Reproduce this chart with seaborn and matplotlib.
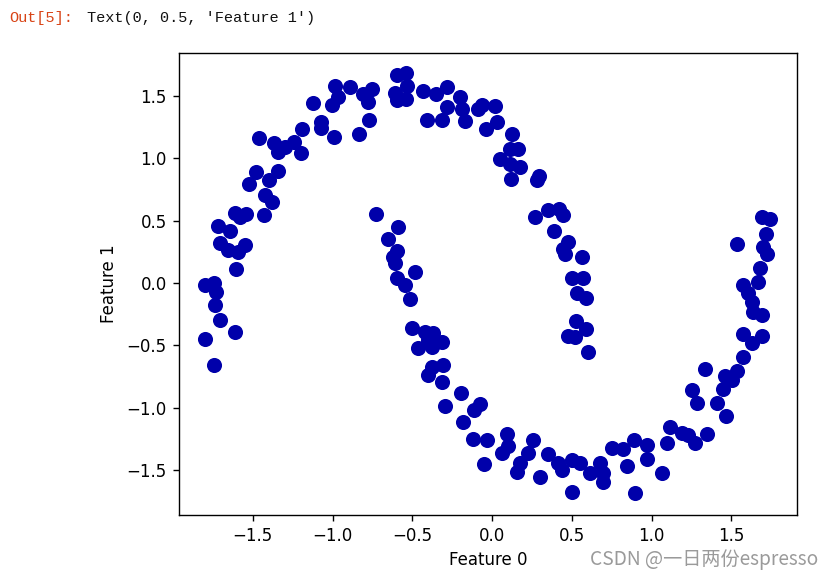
import matplotlib
matplotlib.use("Agg")
import matplotlib.pyplot as plt
import seaborn as sns
import pandas as pd

# Upper moon (feature 0, feature 1)
upper_x = [-0.984, -0.966, -1.003, -0.991, -1.122, -1.072, -1.072, -1.191, -1.461, -1.367,
           -1.342, -1.298, -1.241, -1.197, -1.480, -1.342, -1.524, -1.398, -1.423, -1.379,
           -1.611, -1.542, -1.429, -1.580, -1.718, -1.643, -1.705, -1.655, -1.592, -1.549,
           -1.605, -1.799, -1.743, -1.730, -1.737, -1.705, -1.611, -1.799, -1.743,
           -0.890, -0.809, -0.752, -0.777, -0.771, -0.834, -0.596, -0.539, -0.533, -0.608,
           -0.596, -0.539, -0.433, -0.351, -0.282, -0.282, -0.201, -0.188, -0.169, -0.313,
           -0.408, -0.088, -0.063, -0.038, 0.019, 0.031, 0.125, 0.113, 0.163, 0.050,
           0.113, 0.176, 0.119, 0.295, 0.282, 0.270, 0.351, 0.420, 0.445, 0.389,
           0.476, 0.445, 0.458, 0.564, 0.502, 0.571, 0.533, 0.589, 0.527, 0.589,
           0.476, 0.520, 0.602]
upper_y = [1.580, 1.492, 1.427, 1.171, 1.443, 1.291, 1.243, 1.235, 1.163, 1.123,
           1.051, 1.091, 1.131, 1.043, 0.890, 0.898, 0.794, 0.826, 0.706, 0.650,
           0.561, 0.553, 0.545, 0.529, 0.457, 0.417, 0.321, 0.265, 0.249, 0.305,
           0.112, -0.016, 0.000, -0.072, -0.176, -0.297, -0.393, -0.449, -0.658,
           1.572, 1.516, 1.556, 1.452, 1.307, 1.195, 1.668, 1.684, 1.580, 1.524,
           1.468, 1.476, 1.540, 1.516, 1.572, 1.411, 1.492, 1.395, 1.299, 1.307,
           1.307, 1.395, 1.427, 1.235, 1.419, 1.291, 1.195, 1.075, 1.075, 0.994,
           0.954, 0.930, 0.834, 0.858, 0.826, 0.529, 0.585, 0.593, 0.545, 0.417,
           0.329, 0.273, 0.233, 0.208, 0.040, 0.040, -0.080, -0.120, -0.305, -0.369,
           -0.425, -0.433, -0.553]

# Lower moon (feature 0, feature 1)
lower_x = [-0.727, -0.589, -0.652, -0.596, -0.621, -0.608, -0.483, -0.596, -0.545, -0.514,
           -0.502, -0.420, -0.370, -0.313, -0.464, -0.376, -0.401, -0.376, -0.401, -0.307,
           -0.313, -0.194, -0.295, -0.075, -0.113, -0.182, -0.119, -0.031, -0.050, 0.094,
           0.100, 0.063, 0.176, 0.157, 0.257, 0.226, 0.301, 0.351, 0.414, 0.439,
           0.502, 0.552, 0.502, 0.614, 0.677, 0.696, 0.696, 0.752, 0.821, 0.846,
           0.890, 0.897, 0.972, 0.972, 1.066, 1.116, 1.191, 1.229, 1.348, 1.273,
           1.097, 1.254, 1.285, 1.411, 1.467, 1.335, 1.536, 1.461, 1.505, 1.448,
           1.574, 1.574, 1.630, 1.693, 1.574, 1.668, 1.605, 1.630, 1.636, 1.693,
           1.693, 1.743, 1.718, 1.536, 1.699, 1.724, 1.680]
lower_y = [0.553, 0.449, 0.353, 0.257, 0.208, 0.160, 0.088, 0.040, -0.016, -0.128,
           -0.361, -0.393, -0.401, -0.473, -0.521, -0.513, -0.457, -0.674, -0.738, -0.658,
           -0.794, -0.882, -0.986, -0.970, -1.018, -1.115, -1.251, -1.259, -1.452, -1.211,
           -1.307, -1.363, -1.443, -1.516, -1.259, -1.363, -1.556, -1.371, -1.443, -1.500,
           -1.419, -1.443, -1.676, -1.524, -1.443, -1.524, -1.596, -1.323, -1.331, -1.468,
           -1.259, -1.684, -1.299, -1.411, -1.524, -1.155, -1.203, -1.219, -1.211, -1.283,
           -1.283, -0.858, -0.962, -0.962, -1.067, -0.690, -0.706, -0.746, -0.778, -0.850,
           -0.593, -0.409, -0.481, -0.425, -0.016, 0.008, -0.080, -0.152, -0.233, -0.257,
           0.529, 0.513, 0.393, 0.313, 0.289, 0.233, 0.120]

x_ticks = [-1.5, -1.0, -0.5, 0.0, 0.5, 1.0, 1.5]
y_ticks = [-1.5, -1.0, -0.5, 0.0, 0.5, 1.0, 1.5]
x_label = "Feature 0"
y_label = "Feature 1"
prompt_text = "Out[5]:"
output_text = "Text(0, 0.5, 'Feature 1')"
watermark = "CSDN @一日两份espresso"

df = pd.DataFrame({
    "f0": upper_x + lower_x,
    "f1": upper_y + lower_y,
})

plt.rcParams["font.family"] = ["DejaVu Sans"]
fig = plt.figure(figsize=(8.36, 5.78), dpi=100)
ax = fig.add_axes([179 / 836, 1 - 515 / 578, 618 / 836, 462 / 578])

sns.scatterplot(data=df, x="f0", y="f1", ax=ax, color="#0000aa",
                s=118, linewidth=0, legend=False)

ax.set_xlim(-1.963, 1.912)
ax.set_ylim(-1.860, 1.844)
ax.set_xticks(x_ticks)
ax.set_yticks(y_ticks)
ax.set_xticklabels([f"{t:.1f}".replace("-", "\u2212") for t in x_ticks])
ax.set_yticklabels([f"{t:.1f}".replace("-", "\u2212") for t in y_ticks])
ax.tick_params(labelsize=12, length=4.4, width=1.0, pad=4.4)
for sp in ax.spines.values():
    sp.set_linewidth(1.0)
ax.set_xlabel(x_label, fontsize=12, labelpad=4)
ax.set_ylabel(y_label, fontsize=12, labelpad=6)

fig.text(9 / 836, 1 - 18 / 578, prompt_text, family="Liberation Mono",
         fontsize=11, color="#d84315", va="center", ha="left")
fig.text(87 / 836, 1 - 18 / 578, output_text, family="Liberation Mono",
         fontsize=11, color="#111111", va="center", ha="left")
fig.text(590 / 836, 1 - 559 / 578, watermark,
         family=["Noto Sans CJK SC", "DejaVu Sans"], fontsize=13.8,
         color="#9a9a9a", va="center", ha="left")

fig.savefig("out.png", dpi=100)
